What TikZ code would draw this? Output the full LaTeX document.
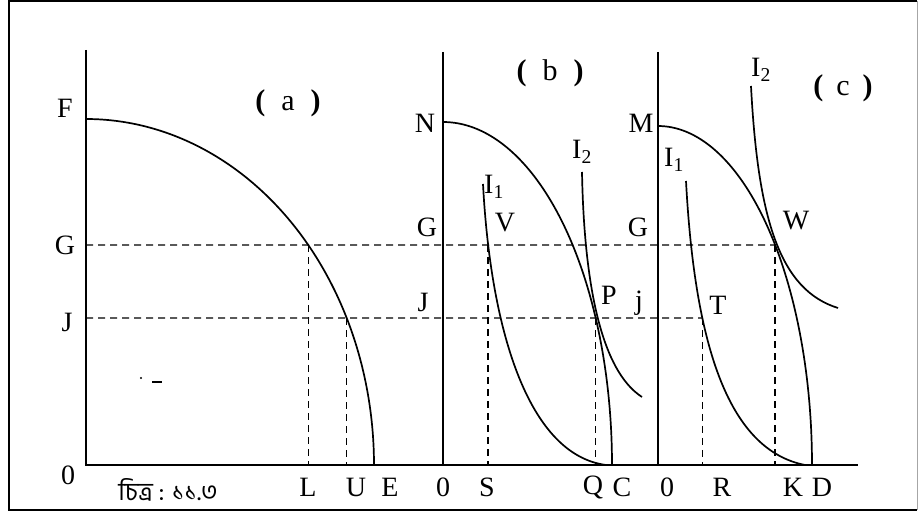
\documentclass[tikz,border=0pt]{standalone}
\usepackage{fontspec}
\setmainfont{Liberation Serif}
\newfontfamily\bnfont[Script=Bengali]{Hind Siliguri}
\usetikzlibrary{intersections}
\tikzset{
  lbl/.style={inner sep=0pt, font=\fontsize{28}{28}\selectfont},
  plbl/.style={inner sep=0pt, font=\fontsize{30}{30}\selectfont},
  axis/.style={line width=2pt},
  crv/.style={line width=1.7pt},
  dsh/.style={line width=1.4pt, dash pattern=on 7pt off 5pt},
}
\begin{document}
\begin{tikzpicture}[x=1pt,y=-1pt]
\useasboundingbox (0,0) rectangle (919,516);
% frame
\draw[line width=2.4pt] (917,1) -- (9,1) -- (9,510) -- (917,510);
\draw[line width=0.8pt, black!35] (917,1) -- (917,510);
% axes
\coordinate (Oa) at (86,465);
\coordinate (Ob) at (443,465);
\coordinate (Oc) at (658,465);
\coordinate (Ta) at (86,50);
\coordinate (Tb) at (443,52);
\coordinate (Tc) at (658,52);
\coordinate (Xend) at (858,465);
\draw[axis] (Ta) -- (Oa) -- (Xend);
\draw[axis] (Tb) -- (Ob);
\draw[axis] (Tc) -- (Oc);
% helper lines
\path[name path=Gline] (86,245) -- (858,245);
\path[name path=Jline] (86,318) -- (858,318);
\coordinate (Ga) at (86,245);
\coordinate (Ja) at (86,318);
% transformation curves
\draw[crv, name path=ca] plot[domain=0:90, samples=90, smooth] ({86+288*cos(\x)},{465-346*sin(\x)});
\draw[crv, name path=cb] plot[domain=0:90, samples=90, smooth] ({443+169*cos(\x)},{465-343*sin(\x)});
\draw[crv, name path=cc] plot[domain=0:90, samples=90, smooth] ({658+154*cos(\x)},{465-339*sin(\x)});
% indifference curves
\draw[crv, name path=ib1] (483,184) .. controls (491,335) and (530,455) .. (606,465);
\draw[crv, name path=ib2] (582,172) .. controls (584,280) and (600,370) .. (642,397);
\draw[crv, name path=ic1] (686,181) .. controls (695,350) and (730,450) .. (805,465);
\draw[crv, name path=ic2] (751,86) .. controls (758,220) and (780,290) .. (838,308);
% intersections
\path[name intersections={of=ca and Gline, by=aG}];
\path[name intersections={of=ca and Jline, by=aJ}];
\path[name intersections={of=cb and Jline, by=Pp}];
\path[name intersections={of=ib1 and Gline, by=Vp}];
\path[name intersections={of=cc and Gline, by=Wp}];
\path[name intersections={of=ic1 and Jline, by=Tp}];
% dashed lines
\draw[dsh] (Ga) -- (Wp);
\draw[dsh] (Ja) -- (Tp);
\draw[dsh] (aG) -- (aG |- Oa);
\draw[dsh] (aJ) -- (aJ |- Oa);
\draw[dsh] (Vp) -- (Vp |- Oa);
\draw[dsh] (Pp) -- (Pp |- Oa);
\draw[dsh] (Tp) -- (Tp |- Oa);
\draw[dsh] (Wp) -- (Wp |- Oa);
% stray mark
\fill (141,378) circle (1.2pt);
\draw[line width=2.5pt] (152,382) -- (162,382);
% labels
\node[lbl] (lF) at (65,108) {F};
\node[lbl] (lGa) at (65,245) {G};
\node[lbl] (lJa) at (67,322) {J};
\node[lbl] (l0a) at (68,475) {0};
\node[plbl] (la) at (288,103) {\textbf{(}\hspace{16pt}a\hspace{16pt}\textbf{)}};
\node[lbl] (lN) at (425,123) {N};
\node[lbl] (lGb) at (427,227) {G};
\node[lbl] (lJb) at (423,302) {J};
\node[plbl] (lb) at (550,73) {\textbf{(}\hspace{16pt}b\hspace{16pt}\textbf{)}};
\node[lbl] (lI1b) at (494,187) {I\textsubscript{1}};
\node[lbl] (lV) at (505,223) {V};
\node[lbl] (lI2b) at (582,152) {I\textsubscript{2}};
\node[lbl] (lP) at (609,295) {P};
\node[lbl] (lM) at (641,123) {M};
\node[lbl] (lGc) at (638,227) {G};
\node[lbl] (ljc) at (639,303) {j};
\node[lbl] (lI1c) at (674,160) {I\textsubscript{1}};
\node[lbl] (lI2c) at (761,70) {I\textsubscript{2}};
\node[plbl] (lc) at (843,88) {\textbf{(}\hspace{13pt}c\hspace{13pt}\textbf{)}};
\node[lbl] (lW) at (796,221) {W};
\node[lbl] (lT) at (718,305) {T};
\node[lbl] (lL) at (308,487) {L};
\node[lbl] (lU) at (356,487) {U};
\node[lbl] (lE) at (390,487) {E};
\node[lbl] (l0b) at (443,487) {0};
\node[lbl] (lS) at (487,487) {S};
\node[lbl] (lQ) at (593,487) {Q};
\node[lbl] (lC) at (622,487) {C};
\node[lbl] (l0c) at (667,487) {0};
\node[lbl] (lR) at (722,487) {R};
\node[lbl] (lK) at (793,487) {K};
\node[lbl] (lD) at (822,487) {D};
\node[inner sep=0pt, font=\bnfont\fontsize{25}{25}\selectfont] (cap) at (168,490) {চিত্র : ১১.৩};
\end{tikzpicture}
\end{document}
